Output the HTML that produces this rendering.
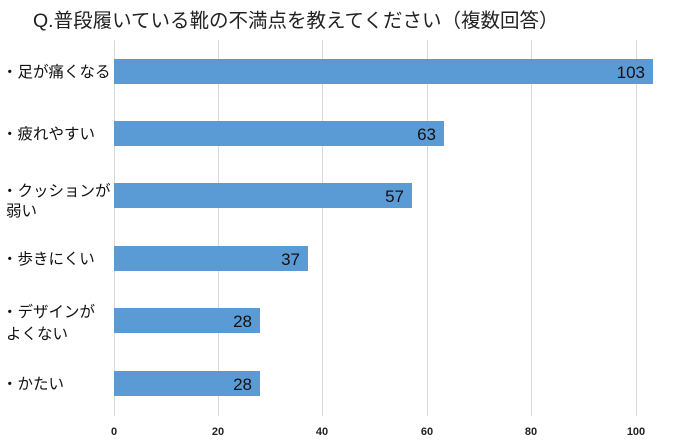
<!DOCTYPE html>
<html><head><meta charset="utf-8"><style>
body{margin:0;background:#fff;}
svg text{font-family:"Liberation Sans","Noto Sans CJK JP",sans-serif;}
</style></head><body>
<svg width="680" height="443" xmlns="http://www.w3.org/2000/svg">
<rect width="680" height="443" fill="#fff"/>
<text x="33" y="27" font-size="19.5" fill="#222">Q.普段履いている靴の不満点を教えてください（複数回答）</text>
<g stroke="#d9d9d9" stroke-width="1">
<line x1="114.5" y1="40" x2="114.5" y2="416"/>
<line x1="218.5" y1="40" x2="218.5" y2="416"/>
<line x1="322.5" y1="40" x2="322.5" y2="416"/>
<line x1="427.5" y1="40" x2="427.5" y2="416"/>
<line x1="531.5" y1="40" x2="531.5" y2="416"/>
<line x1="636.5" y1="40" x2="636.5" y2="416"/>
</g>
<g fill="#5b9bd5">
<rect x="114" y="59" width="539" height="25"/>
<rect x="114" y="121" width="330" height="25"/>
<rect x="114" y="183" width="298" height="25"/>
<rect x="114" y="246" width="194" height="25"/>
<rect x="114" y="308" width="146" height="25"/>
<rect x="114" y="371" width="146" height="25"/>
</g>
<g font-size="17" fill="#111" text-anchor="end">
<text x="645" y="78">103</text>
<text x="436" y="140">63</text>
<text x="404" y="202">57</text>
<text x="300" y="265">37</text>
<text x="252" y="327">28</text>
<text x="252" y="390">28</text>
</g>
<g font-size="15.5" fill="#111">
<text x="2" y="77">・足が痛くなる</text>
<text x="2" y="139">・疲れやすい</text>
<text x="2" y="196">・クッションが</text>
<text x="6" y="216">弱い</text>
<text x="2" y="264">・歩きにくい</text>
<text x="2" y="317">・デザインが</text>
<text x="6" y="339">よくない</text>
<text x="2" y="389">・かたい</text>
</g>
<g font-size="11" font-weight="bold" fill="#222" text-anchor="middle">
<text x="114" y="435">0</text>
<text x="218" y="435">20</text>
<text x="322" y="435">40</text>
<text x="427" y="435">60</text>
<text x="531" y="435">80</text>
<text x="636" y="435">100</text>
</g>
</svg>
</body></html>
